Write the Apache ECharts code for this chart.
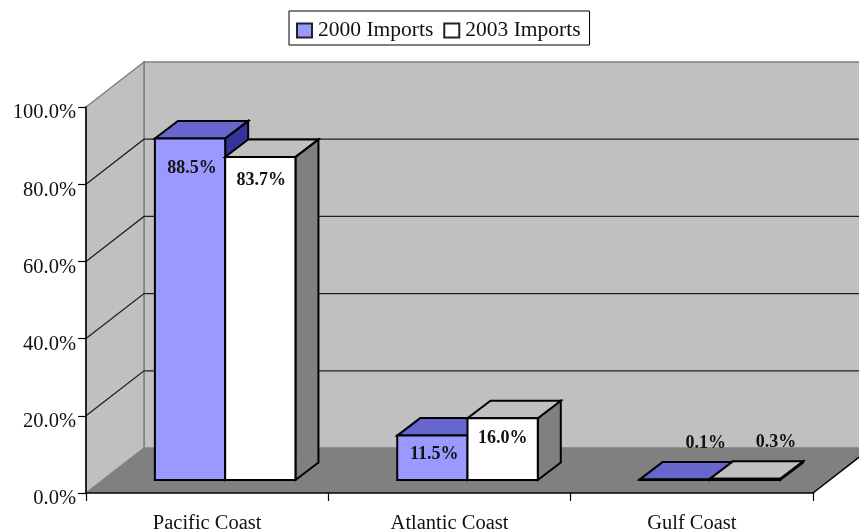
<!DOCTYPE html>
<html>
<head>
<meta charset="utf-8">
<style>html,body{margin:0;background:#fff}#chart{width:859px;height:531px}</style>
<script src="https://cdn.jsdelivr.net/npm/echarts@6/dist/echarts.min.js"></script>
</head>
<body>
<div id="chart"></div>
<script>
// Share of imports by coast
const categories = ['Pacific Coast', 'Atlantic Coast', 'Gulf Coast'];
const imports2000 = [88.5, 11.5, 0.1];
const imports2003 = [83.7, 16.0, 0.3];
const gridValues = [20, 40, 60, 80];

// Oblique projection used for the box and the columns, in pixels
const WALL_DX = 58, WALL_DY = 45;      // full depth of the chart box
const BASE_DX = 18, BASE_DY = 13;      // where a column's front sits on the floor
const BAR_DX = 23, BAR_DY = 17.5;      // depth of a column
const BAR_SHARE = 0.29;                // column width as a share of a category band

// Label placement relative to the top centre of each column's front face
const nudge2000 = [[2, 30], [2, 19], [31, -36.5]];
const nudge2003 = [[1, 23], [0, 20.5], [31, -36.5]];

const SERIF = '"Liberation Serif","Times New Roman",serif';
const EDGE = '#000';

function poly(points, fill, stroke, width) {
  return {
    type: 'polygon',
    shape: { points },
    style: { fill, stroke: stroke || 'none', lineWidth: width || 0, lineJoin: 'miter' }
  };
}

// Walls and floor of the box, from the plot rectangle of the cartesian grid
function renderBox(params) {
  const c = params.coordSys;
  const l = c.x, r = c.x + c.width, t = c.y, b = c.y + c.height;
  const back = (x, y) => [x + WALL_DX, y - WALL_DY];
  const edge = '#808080';
  return {
    type: 'group',
    children: [
      poly([back(l, t), back(r, t), back(r, b), back(l, b)], '#c0c0c0', edge, 1.5),
      poly([[l, b], [l, t], back(l, t), back(l, b)], '#c0c0c0', edge, 1.5),
      poly([[l, b], [r, b], back(r, b), back(l, b)], '#808080'),
      { type: 'line', shape: { x1: r, y1: b, x2: back(r, b)[0], y2: back(r, b)[1] },
        style: { stroke: '#000', lineWidth: 1.5 } }
    ]
  };
}

// One gridline: across the side wall, then along the back wall
function renderGridline(params, api) {
  const c = params.coordSys;
  const y = api.coord([0, api.value(1)])[1];
  return {
    type: 'polyline',
    shape: { points: [[c.x, y], [c.x + WALL_DX, y - WALL_DY], [c.x + c.width + WALL_DX, y - WALL_DY]] },
    style: { fill: 'none', stroke: '#202020', lineWidth: 1.3 }
  };
}

// One column: front, top and side faces plus its value label
function columnRenderer(slot, nudges, faces) {
  return function (params, api) {
    const i = api.value(0), v = api.value(1);
    const band = api.size([1, 0])[0];
    const w = band * BAR_SHARE;
    const p = api.coord([i, v]);
    const x0 = p[0] + BASE_DX + (slot === 0 ? -w : 0);
    const x1 = x0 + w;
    const yBase = api.coord([i, 0])[1] - BASE_DY;
    const yTop = p[1] - BASE_DY;
    const n = nudges[i];
    return {
      type: 'group',
      children: [
        poly([[x1, yBase], [x1 + BAR_DX, yBase - BAR_DY], [x1 + BAR_DX, yTop - BAR_DY], [x1, yTop]], faces.side, EDGE, 2),
        poly([[x0, yTop], [x1, yTop], [x1 + BAR_DX, yTop - BAR_DY], [x0 + BAR_DX, yTop - BAR_DY]], faces.top, EDGE, 2),
        poly([[x0, yBase], [x1, yBase], [x1, yTop], [x0, yTop]], faces.front, EDGE, 2),
        {
          type: 'text',
          z2: 10,
          style: {
            text: v.toFixed(1) + '%',
            x: (x0 + x1) / 2 + n[0],
            y: yTop + n[1],
            align: 'center',
            verticalAlign: 'middle',
            font: 'bold 18px ' + SERIF,
            fill: '#111'
          }
        }
      ]
    };
  };
}

const toPairs = values => values.map((v, i) => [i, v]);

const chart = echarts.init(document.getElementById('chart'), null, { renderer: 'canvas' });
chart.setOption({
  animation: false,
  backgroundColor: '#fff',
  grid: { left: 86, right: 46, top: 107, bottom: 38, outerBoundsMode: 'none' },
  legend: {
    data: ['2000 Imports', '2003 Imports'],
    left: 289,
    top: 11,
    padding: [8.5, 9, 3.5, 7],
    itemGap: 10,
    itemWidth: 15,
    itemHeight: 14,
    icon: 'rect',
    backgroundColor: '#fff',
    borderColor: '#000',
    borderWidth: 1,
    selectedMode: false,
    textStyle: { fontFamily: SERIF, fontSize: 21.5, color: '#111', padding: [0, 0, 0, 1] }
  },
  xAxis: {
    type: 'category',
    data: categories,
    z: 5,
    axisLine: { lineStyle: { color: '#000', width: 1.5 } },
    axisTick: { show: true, length: 8, alignWithLabel: false, lineStyle: { color: '#000', width: 1.2 } },
    axisLabel: { fontFamily: SERIF, fontSize: 20.5, color: '#111', margin: 20 },
    splitLine: { show: false }
  },
  yAxis: {
    type: 'value',
    min: 0,
    max: 100,
    interval: 20,
    z: 5,
    axisLine: { show: true, lineStyle: { color: '#000', width: 1.5 } },
    axisTick: { show: true, length: 8, lineStyle: { color: '#000', width: 1.2 } },
    axisLabel: {
      fontFamily: SERIF, fontSize: 20.5, color: '#111', margin: 10, verticalAlign: 'top', lineHeight: 12,
      formatter: value => value.toFixed(1) + '%'
    },
    splitLine: { show: false }
  },
  series: [
    { name: 'box', type: 'custom', z: 1, silent: true, clip: false, data: [[0, 0]], renderItem: renderBox },
    { name: 'gridlines', type: 'custom', z: 2, silent: true, clip: false, data: gridValues.map(v => [0, v]), renderItem: renderGridline },
    {
      name: '2000 Imports', type: 'custom', z: 3, clip: false,
      itemStyle: { color: '#9999ff', borderColor: '#222', borderWidth: 2 },
      data: toPairs(imports2000),
      renderItem: columnRenderer(0, nudge2000, { front: '#9999ff', top: '#6666cc', side: '#333399' })
    },
    {
      name: '2003 Imports', type: 'custom', z: 3, clip: false,
      itemStyle: { color: '#ffffff', borderColor: '#222', borderWidth: 2 },
      data: toPairs(imports2003),
      renderItem: columnRenderer(1, nudge2003, { front: '#ffffff', top: '#c0c0c0', side: '#808080' })
    }
  ]
});
</script>
</body>
</html>
